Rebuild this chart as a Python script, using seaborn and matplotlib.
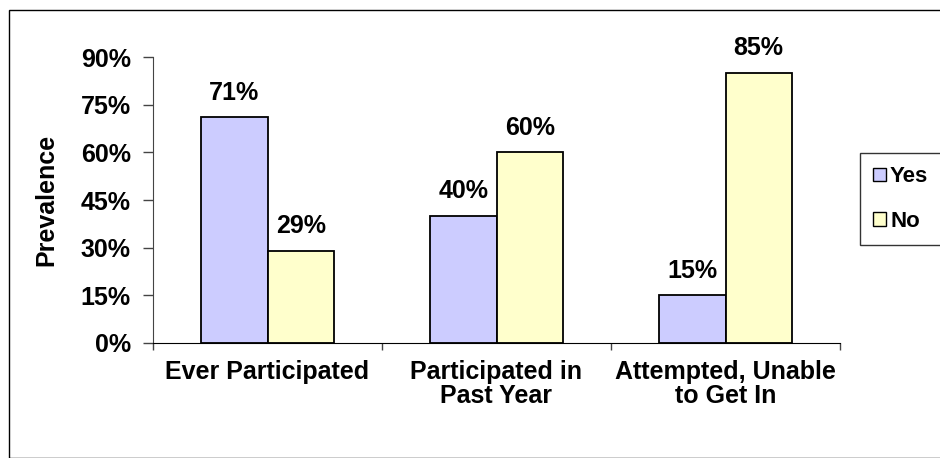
import pandas as pd
import numpy as np
import matplotlib.pyplot as plt
import matplotlib.patches as mpatches
import seaborn as sns

# Data
categories = ["Ever Participated", "Participated in\nPast Year", "Attempted, Unable\nto Get In"]
yes_values = [0.71, 0.40, 0.15]
no_values = [0.29, 0.60, 0.85]
responses = ["Yes", "No"]
colors = {"Yes": "#CCCCFF", "No": "#FFFFCC"}

df = pd.DataFrame({
    "category": categories * 2,
    "response": ["Yes"] * 3 + ["No"] * 3,
    "value": yes_values + no_values,
})

sns.set_style("white")
plt.rcParams["font.family"] = ["Liberation Sans", "DejaVu Sans"]
plt.rcParams["font.weight"] = "bold"
plt.rcParams["text.color"] = "black"
plt.rcParams["axes.labelcolor"] = "black"
plt.rcParams["xtick.color"] = "black"
plt.rcParams["ytick.color"] = "black"

fig = plt.figure(figsize=(9.4, 4.58), dpi=100)
ax = fig.add_axes([153 / 940, 1 - 343 / 458, (840 - 153) / 940, (343 - 57) / 458])

sns.barplot(data=df, x="category", y="value", hue="response", hue_order=responses,
            palette=colors, saturation=1, width=0.58, edgecolor="black", linewidth=1.3,
            ax=ax, legend=True)

# value labels
for container in ax.containers:
    ax.bar_label(container, labels=[f"{v * 100:.0f}%" for v in container.datavalues],
                 padding=9, fontsize=18, fontweight="bold", color="black")

ax.set_ylim(0, 0.9)
ax.set_xlim(-0.5, 2.5)
yt = np.arange(0, 0.91, 0.15)
ax.set_yticks(yt)
ax.set_yticklabels([f"{t * 100:.0f}%" for t in yt], fontsize=18, fontweight="bold")
ax.tick_params(axis="y", direction="out", length=7, width=1, color="#444444",
               labelcolor="black", pad=9, left=True)
ax.set_xticks(range(3))
ax.set_xticklabels(categories, fontsize=18, fontweight="bold", linespacing=1.0)
ax.tick_params(axis="x", length=0, pad=12, labelcolor="black")
ax.set_xticks([-0.5, 0.5, 1.5, 2.5], minor=True)
ax.tick_params(axis="x", which="minor", direction="out", length=5, width=1, color="#444444", bottom=True)

ax.set_xlabel("")
ax.set_ylabel("Prevalence", fontsize=18, fontweight="bold", labelpad=16, color="black")

for side in ["top", "right"]:
    ax.spines[side].set_visible(False)
ax.spines["left"].set_color("#444444")
ax.spines["bottom"].set_color("black")

# legend outside the plot
handles = [mpatches.Patch(facecolor=colors[r], edgecolor="black", linewidth=1) for r in responses]
leg = ax.legend(handles, responses, loc="upper left", bbox_to_anchor=(860 / 940, 1 - 153 / 458),
                bbox_transform=fig.transFigure, borderaxespad=0, frameon=True, fancybox=False,
                edgecolor="black", handlelength=0.55, handleheight=0.55, handletextpad=0.2,
                labelspacing=1.05, borderpad=0.6, prop={"size": 16, "weight": "bold"})
leg.get_frame().set_linewidth(1)
for t in leg.get_texts():
    t.set_color("black")

# chart-area border
fig.patches.append(mpatches.Rectangle((9 / 940, 0), 1, 1 - 10 / 458, transform=fig.transFigure,
                                      fill=False, edgecolor="black", linewidth=1))

plt.savefig("out.png", dpi=100)
